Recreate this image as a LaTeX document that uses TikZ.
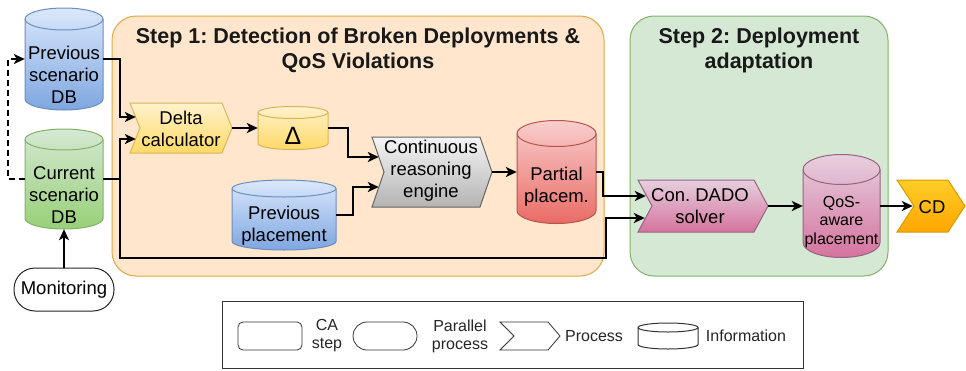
\documentclass[tikz,border=0pt]{standalone}
\usepackage{fontspec}
\setmainfont{Liberation Sans}
\usetikzlibrary{arrows.meta,calc}
\frenchspacing
\definecolor{blueT}{HTML}{DAE8FC}\definecolor{blueB}{HTML}{7EA6E0}\definecolor{blueS}{HTML}{6C8EBF}
\definecolor{greenT}{HTML}{D5E8D4}\definecolor{greenB}{HTML}{97D077}\definecolor{greenS}{HTML}{82B366}
\definecolor{yelT}{HTML}{FFF2CC}\definecolor{yelB}{HTML}{FFD966}\definecolor{yelS}{HTML}{D6B656}
\definecolor{grayT}{HTML}{F5F5F5}\definecolor{grayB}{HTML}{B3B3B3}\definecolor{grayS}{HTML}{666666}
\definecolor{redT}{HTML}{F8CECC}\definecolor{redB}{HTML}{EA6B66}\definecolor{redS}{HTML}{B85450}
\definecolor{pinkT}{HTML}{E6D0DE}\definecolor{pinkB}{HTML}{D5739D}\definecolor{pinkS}{HTML}{996185}
\definecolor{orT}{HTML}{FFCD28}\definecolor{orB}{HTML}{FFA500}\definecolor{orS}{HTML}{D79B00}
\definecolor{stepOneF}{HTML}{FFE6CC}\definecolor{stepOneS}{HTML}{E0A840}
\definecolor{stepTwoF}{HTML}{D5E8D4}\definecolor{stepTwoS}{HTML}{82B366}
\definecolor{legS}{HTML}{333333}
% cylinder: #1 top col, #2 bottom col, #3 stroke, #4 x1, #5 y1, #6 x2, #7 y2, #8 cap radius
\newcommand\cylDraw[8]{%
 \pgfmathsetmacro\cxm{(#4+#6)/2}%
 \pgfmathsetmacro\kxm{0.5523*(#6-#4)/2}%
 \pgfmathsetmacro\kym{0.5523*#8}%
 \pgfmathsetmacro\tcy{#5+#8}%
 \pgfmathsetmacro\bcy{#7-#8}%
 \pgfmathsetmacro\frt{#5+2*#8}%
 \path[top color=#1, bottom color=#2, draw=#3, line width=1pt]
   (#4,\tcy) -- (#4,\bcy)
   .. controls (#4,\bcy+\kym) and (\cxm-\kxm,#7) .. (\cxm,#7)
   .. controls (\cxm+\kxm,#7) and (#6,\bcy+\kym) .. (#6,\bcy)
   -- (#6,\tcy)
   .. controls (#6,\tcy-\kym) and (\cxm+\kxm,#5) .. (\cxm,#5)
   .. controls (\cxm-\kxm,#5) and (#4,\tcy-\kym) .. (#4,\tcy) -- cycle;
 \draw[draw=#3, line width=1pt] (#4,\tcy)
   .. controls (#4,\tcy+\kym) and (\cxm-\kxm,\frt) .. (\cxm,\frt)
   .. controls (\cxm+\kxm,\frt) and (#6,\tcy+\kym) .. (#6,\tcy);
}
% process chevron: #1 top, #2 bottom, #3 stroke, #4 x1, #5 y1, #6 x2, #7 y2, #8 depth
\newcommand\procDraw[8]{%
 \pgfmathsetmacro\pym{(#5+#7)/2}%
 \path[top color=#1, bottom color=#2, draw=#3, line width=1pt]
   (#4,#5) -- (#6-#8,#5) -- (#6,\pym) -- (#6-#8,#7) -- (#4,#7) -- (#4+#8,\pym) -- cycle;
}
\tikzset{
  conn/.style={line width=2.3pt, draw=black, -{Stealth[length=11pt,width=10pt,inset=3pt]}},
  ntext/.style={font=\fontsize{18.5pt}{22pt}\selectfont, align=center, text=black, inner sep=0pt},
  stext/.style={font=\fontsize{16pt}{18.5pt}\selectfont, align=center, text=black, inner sep=0pt},
  ltext/.style={font=\fontsize{16pt}{18pt}\selectfont, align=center, text=black!85, inner sep=0pt},
  ttext/.style={font=\fontsize{21.5pt}{25pt}\selectfont\bfseries, align=center, text=black!90, inner sep=0pt},
  shapebox/.style={draw=none, inner sep=0pt},
  legshape/.style={draw=legS, line width=0.8pt, fill=white, inner sep=0pt},
}
\begin{document}
\begin{tikzpicture}[x=1pt, y=-1pt]
\useasboundingbox (0,0) rectangle (966,370);
\fill[white] (0,0) rectangle (966,370);

% step containers
\node[draw=stepOneS, fill=stepOneF, line width=1pt, rounded corners=24pt,
      minimum width=492pt, minimum height=260pt, inner sep=0pt] (s1) at (358,146) {};
\node[draw=stepTwoS, fill=stepTwoF, line width=1pt, rounded corners=24pt,
      minimum width=258pt, minimum height=260pt, inner sep=0pt] (s2) at (759,146) {};
\node[ttext] (s1t) at (358,50) {Step 1: Detection of Broken Deployments \&\\QoS Violations};
\node[ttext] (s2t) at (759,50) {Step 2: Deployment\\adaptation};

% cylinders
\cylDraw{blueT}{blueB}{blueS}{25}{8}{103}{110}{11}
\node[shapebox, minimum width=78pt, minimum height=102pt] (pdb) at (64,59) {};
\node[ntext] (pdbT) at (64,75) {Previous\\scenario\\DB};

\cylDraw{greenT}{greenB}{greenS}{25}{129}{103}{229}{10.5}
\node[shapebox, minimum width=78pt, minimum height=100pt] (cdb) at (64,179) {};
\node[ntext] (cdbT) at (64,195) {Current\\scenario\\DB};

\cylDraw{yelT}{yelB}{yelS}{258}{106.5}{328}{149.5}{6}
\node[shapebox, minimum width=70pt, minimum height=43pt] (delta) at (293,128) {};
\node[font=\fontsize{25pt}{28pt}\selectfont, text=black, inner sep=0pt] (deltaT) at (293,136) {Δ};

\cylDraw{blueT}{blueB}{blueS}{232}{180}{336}{250}{8.5}
\node[shapebox, minimum width=104pt, minimum height=70pt] (prevpl) at (284,215) {};
\node[ntext] (prevplT) at (284,226) {Previous\\placement};

\cylDraw{redT}{redB}{redS}{517}{120.5}{596}{223.5}{13}
\node[shapebox, minimum width=79pt, minimum height=103pt] (pp) at (556.5,172) {};
\node[ntext] (ppT) at (556.5,187) {Partial\\placem.};

\cylDraw{pinkT}{pinkB}{pinkS}{803}{154.5}{880}{257.5}{15}
\node[shapebox, minimum width=77pt, minimum height=103pt] (qos) at (841.5,206) {};
\node[stext] (qosT) at (841.5,222) {QoS-\\aware\\placement};

% processes
\procDraw{yelT}{yelB}{yelS}{130}{103}{232}{153}{10}
\node[shapebox, minimum width=102pt, minimum height=50pt] (dc) at (181,128) {};
\node[ntext] (dcT) at (181,129) {Delta\\calculator};

\procDraw{grayT}{grayB}{grayS}{372}{137}{492}{207}{12}
\node[shapebox, minimum width=120pt, minimum height=70pt] (cre) at (432,172) {};
\node[ntext] (creT) at (431,171) {Continuous\\reasoning\\engine};

\procDraw{pinkT}{pinkB}{pinkS}{638}{180}{768}{232}{14}
\node[shapebox, minimum width=130pt, minimum height=52pt] (dado) at (703,206) {};
\node[ntext] (dadoT) at (700,206) {Con. DADO\\solver};

\procDraw{orT}{orB}{orS}{897}{180}{965}{232}{17}
\node[shapebox, minimum width=68pt, minimum height=52pt] (cd) at (931,206) {};
\node[ntext] (cdT) at (932,207) {CD};

% monitoring
\node[draw=black!85, line width=1pt, fill=white, rounded corners=21pt,
      minimum width=100pt, minimum height=43pt, ntext] (mon) at (64,289.5) {Monitoring};

% connectors
\coordinate (jb) at (606,258);
\draw[conn] (pdb.east) -- ++(17,0) |- ($(dc.west)+(6,-11)$);
\draw[conn] (cdb.east) -- ++(17,0) |- ($(dc.west)+(6,11)$);
\draw[conn] (cdb.east) -- ++(17,0) |- (jb) |- ($(dado.west)+(7,12)$);
\draw[conn] (pp.east) -- ++(7,0) |- ($(dado.west)+(8,-10)$);
\draw[conn, dash pattern=on 6pt off 4pt] (cdb.west) -- ++(-17,0) |- (pdb.west);
\draw[conn] (mon.north) -- (cdb.south);
\draw[conn] (dc.east) -- (delta.west);
\draw[conn] (delta.east) -- ++(20,0) |- ($(cre.west)+(7,-15)$);
\draw[conn] (prevpl.east) -- ++(17,0) |- ($(cre.west)+(7,15)$);
\draw[conn] (cre.east) -- (pp.west);
\draw[conn] (dado.east) -- (qos.west);
\draw[conn] (qos.east) -- ($(cd.west)+(16,0)$);

% legend
\node[draw=legS, line width=1pt, fill=white, minimum width=581pt, minimum height=67pt, inner sep=0pt] (leg) at (512.5,335) {};
\node[legshape, rounded corners=5pt, minimum width=64pt, minimum height=28pt] (lgca) at (270,336) {};
\node[ltext] (lgcaT) at (327,336) {CA\\step};
\node[legshape, rounded corners=14pt, minimum width=64pt, minimum height=28pt] (lgpp) at (385,336) {};
\node[ltext] (lgppT) at (460,336) {Parallel\\process};
\draw[draw=legS, line width=0.8pt, fill=white] (500,322) -- (548,322) -- (560,336) -- (548,350) -- (500,350) -- (514,336) -- cycle;
\node[shapebox, minimum width=60pt, minimum height=28pt] (lgpr) at (530,336) {};
\node[ltext] (lgprT) at (594,336) {Process};
\cylDraw{white}{white}{legS}{638}{323}{698}{349}{4.5}
\node[shapebox, minimum width=60pt, minimum height=26pt] (lgin) at (668,336) {};
\node[ltext] (lginT) at (746,336) {Information};
\end{tikzpicture}
\end{document}
